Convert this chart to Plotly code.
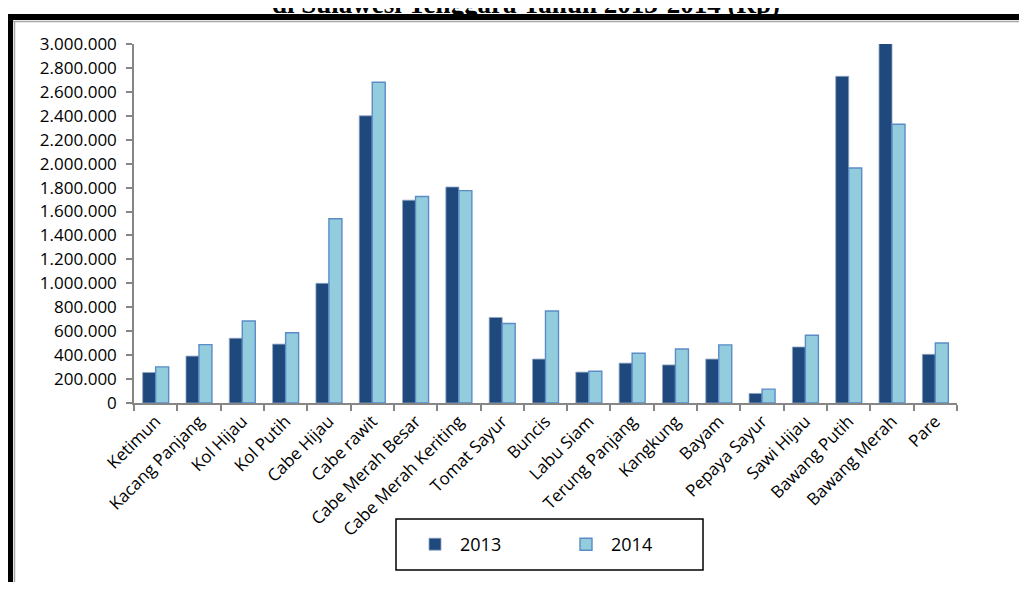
import plotly.graph_objects as go

categories = ["Ketimun", "Kacang Panjang", "Kol Hijau", "Kol Putih", "Cabe Hijau",
              "Cabe rawit", "Cabe Merah Besar", "Cabe Merah Keriting", "Tomat Sayur",
              "Buncis", "Labu Siam", "Terung Panjang", "Kangkung", "Bayam",
              "Pepaya Sayur", "Sawi Hijau", "Bawang Putih", "Bawang Merah", "Pare"]
values_2013 = [255000, 392000, 541000, 492000, 1000000, 2400000, 1695000, 1805000, 715000,
               367000, 258000, 333000, 318000, 367000, 80000, 468000, 2730000, 3010000, 407000]
values_2014 = [302000, 488000, 685000, 587000, 1540000, 2680000, 1726000, 1775000, 664000,
               769000, 265000, 416000, 451000, 486000, 116000, 566000, 1964000, 2330000, 501000]
series_names = ["2013", "2014"]
title_text = "di Sulawesi Tenggara Tahun 2013-2014 (Rp)"

# the page body has an 8px margin on every side: keep the figure inside the window
OFF = 8
WIN_W, WIN_H = 1027, 590
W, H = WIN_W - 2 * OFF, WIN_H - 2 * OFF
L, R, T, B = 134 - OFF, (OFF + W) - 957, 44 - OFF, (OFF + H) - 403
PW, PH = W - L - R, H - T - B
RIGHT_EDGE, BOTTOM_EDGE = OFF + W, OFF + H


def px(x):
    return (x - OFF - L) / PW


def py(y):
    return (H - B - (y - OFF)) / PH


FONT = "Open Sans"

fig = go.Figure()
fig.add_trace(go.Bar(
    x=categories, y=values_2013, name=series_names[0],
    marker=dict(color="#1F497D", line=dict(color="#8FA6C4", width=0.8)),
))
fig.add_trace(go.Bar(
    x=categories, y=values_2014, name=series_names[1],
    marker=dict(color="#93CDDD", line=dict(color="#5B8CC8", width=1.4)),
))

shapes = [
    # outer black frame (top & left), kept inside the figure
    dict(type="rect", xref="paper", yref="paper", x0=px(OFF), x1=px(RIGHT_EDGE), y0=py(14), y1=py(20),
         line=dict(width=0), fillcolor="black"),
    dict(type="rect", xref="paper", yref="paper", x0=px(OFF), x1=px(13), y0=py(14), y1=py(BOTTOM_EDGE),
         line=dict(width=0), fillcolor="black"),
    # inner grey frame
    dict(type="line", xref="paper", yref="paper", x0=px(13), x1=px(RIGHT_EDGE), y0=py(21.5), y1=py(21.5),
         line=dict(color="#A6A6A6", width=1.5)),
    dict(type="line", xref="paper", yref="paper", x0=px(14.5), x1=px(14.5), y0=py(21), y1=py(BOTTOM_EDGE),
         line=dict(color="#A6A6A6", width=1.5)),
    # legend box
    dict(type="rect", xref="paper", yref="paper", x0=px(396), x1=px(703), y0=py(519), y1=py(570),
         line=dict(color="black", width=1.5), fillcolor="rgba(0,0,0,0)"),
]

fig.update_layout(
    width=W, height=H,
    margin=dict(l=L, r=R, t=T, b=B, pad=0),
    paper_bgcolor="white", plot_bgcolor="white",
    separators=",.",
    barmode="group", bargap=0.4, bargroupgap=0,
    font=dict(family=FONT, size=17, color="black"),
    showlegend=True,
    legend=dict(orientation="h", x=px(410), y=py(544.5), xanchor="left", yanchor="middle",
                font=dict(family=FONT, size=18, color="black"),
                itemwidth=40,
                entrywidth=96, entrywidthmode="pixels",
                bgcolor="rgba(0,0,0,0)", borderwidth=0),
    shapes=shapes,
    annotations=[dict(text="<b>" + title_text + "</b>", xref="paper", yref="paper", x=px(526), y=1,
                      xanchor="center", yanchor="middle", yshift=40, showarrow=False,
                      font=dict(family="Liberation Serif", size=27, color="black"))],
)
fig.update_xaxes(
    type="category", tickangle=-45, tickson="boundaries",
    showline=True, linecolor="#868686", linewidth=1.5,
    ticks="outside", ticklen=6, tickcolor="#868686", tickwidth=1.5,
    showgrid=False, tickfont=dict(family=FONT, size=17, color="black"),
)
fig.update_yaxes(
    range=[0, 3000000], dtick=200000, tickformat=",d",
    showline=True, linecolor="#868686", linewidth=1.5,
    ticks="outside", ticklen=6, tickcolor="#868686", tickwidth=1.5,
    ticklabelstandoff=6,
    showgrid=False, zeroline=False, tickfont=dict(family=FONT, size=17, color="black"),
)

fig.write_html("out.html")
